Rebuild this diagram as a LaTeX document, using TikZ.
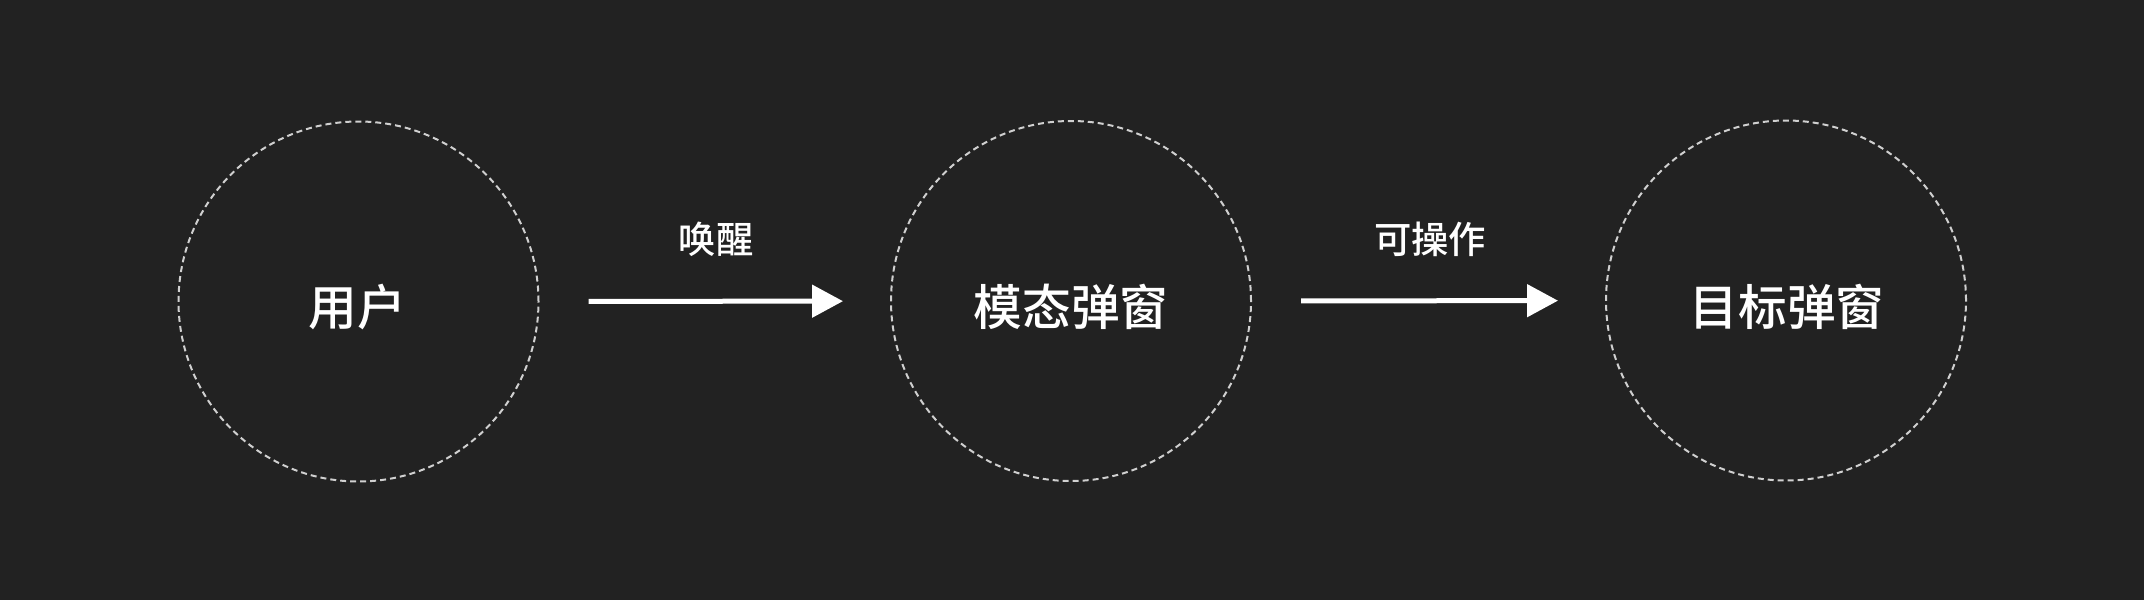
\documentclass[tikz,border=0pt]{standalone}
\usepackage{fontspec}
\usepackage{tikz}
\usetikzlibrary{arrows.meta}
\newfontfamily\cjk{Noto Sans CJK SC}[BoldFont={Noto Sans CJK SC Medium}]
\definecolor{bgdark}{RGB}{34,34,34}
\definecolor{ringgray}{RGB}{208,208,208}

\begin{document}
\begin{tikzpicture}[x=0.75pt,y=0.75pt,yscale=-1,xscale=1,
  ring/.style={circle,draw=ringgray,line width=1.5pt,dash pattern=on 4.5pt off 3pt,minimum size=270pt,inner sep=0pt},
  bigtext/.style={text=white,font=\cjk\bfseries\fontsize{36.5pt}{40pt}\selectfont,inner sep=0.75pt},
  smalltext/.style={text=white,font=\cjk\bfseries\fontsize{28pt}{32pt}\selectfont,inner sep=0.75pt},
  flow/.style={draw=white,line width=3.75pt,-{Triangle[length=23.25pt,width=24pt]},shorten <=36.75pt,shorten >=35.25pt}]
%set diagram size 2144 x 600
\fill [bgdark] (0,0) rectangle (2144,600);
\useasboundingbox (0,0) rectangle (2144,600);

%Shape: Circle [id:user]
\node [ring] (user) at (358.5,301.5) {};
%Shape: Circle [id:modal]
\node [ring] (modal) at (1071,301) {};
%Shape: Circle [id:target]
\node [ring] (target) at (1786,300.5) {};

%Shape: Arrow
\draw [flow] (user) -- (modal);
%Shape: Arrow
\draw [flow] (modal) -- (target);

% Text Node
\node [bigtext] (usertxt) at (357,307.5) {用户};
% Text Node
\node [bigtext] (modaltxt) at (1071,307) {模态弹窗};
% Text Node
\node [bigtext] (targettxt) at (1787,306.5) {目标弹窗};
% Text Node
\node [smalltext] (wake) at (716,239) {唤醒};
% Text Node
\node [smalltext] (operable) at (1430,239) {可操作};

\end{tikzpicture}
\end{document}
